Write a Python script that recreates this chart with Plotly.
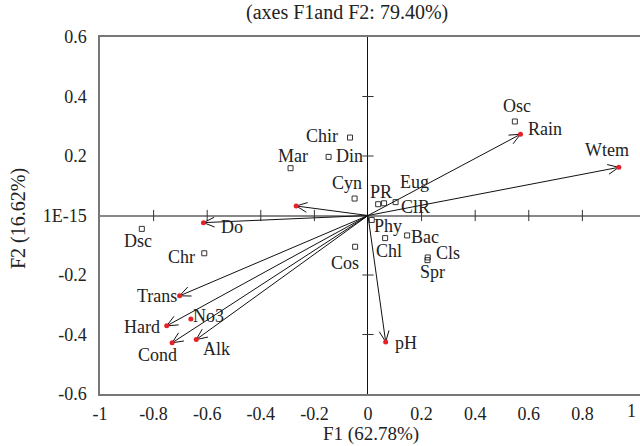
import math
import plotly.graph_objects as go

# ---- data ----
var_names = ["Wtem", "Rain", "pH", "Do", "Trans", "Hard", "Cond", "Alk", ""]
var_x = [0.936, 0.569, 0.066, -0.614, -0.703, -0.751, -0.731, -0.641, -0.268]
var_y = [0.162, 0.273, -0.425, -0.024, -0.270, -0.371, -0.428, -0.417, 0.032]

extra_names = ["No3"]           # variable shown as a point only
extra_x = [-0.661]
extra_y = [-0.348]

sp_names = ["Osc", "Chir", "Din", "Mar", "Cyn", "PR", "Eug", "ClR", "Phy",
            "Chl", "Bac", "Cls", "Spr", "Cos", "Dsc", "Chr"]
sp_x = [0.548, -0.067, -0.147, -0.289, -0.050, 0.038, 0.060, 0.103, 0.014,
        0.064, 0.146, 0.223, 0.222, -0.048, -0.844, -0.611]
sp_y = [0.316, 0.262, 0.197, 0.159, 0.057, 0.038, 0.041, 0.045, -0.015,
        -0.076, -0.067, -0.141, -0.150, -0.105, -0.045, -0.127]

x_ticks = [-1, -0.8, -0.6, -0.4, -0.2, 0, 0.2, 0.4, 0.6, 0.8, 1]
x_ticktext = ["-1", "-0.8", "-0.6", "-0.4", "-0.2", "0", "0.2", "0.4", "0.6", "0.8", "1"]
y_ticks = [-0.6, -0.4, -0.2, 0, 0.2, 0.4, 0.6]
y_ticktext = ["-0.6", "-0.4", "-0.2", "1E-15", "0.2", "0.4", "0.6"]

title_text = "(axes F1and F2: 79.40%)"
x_title = "F1 (62.78%)"
y_title = "F2 (16.62%)"

# ---- style ----
label_offsets = {   # pixels: dx right, dy down
    "Wtem": (-12, -17), "Rain": (25, -5), "Osc": (2, -15), "pH": (20, 1),
    "Do": (29, 4), "Trans": (-23, 0), "Hard": (-25, 1), "No3": (18, -3),
    "Cond": (-15, 12), "Alk": (20, 9), "Dsc": (-4, 12), "Chr": (-23, 4),
    "Chir": (-28, -2), "Din": (21, -1), "Mar": (2, -12), "Cyn": (-8, -16),
    "PR": (3, -12), "Eug": (30, -21), "ClR": (20, 5), "Phy": (16, 6),
    "Chl": (4, 13), "Bac": (18, 2), "Cls": (20, -4), "Spr": (5, 12),
    "Cos": (-10, 16),
}
FONT = "Liberation Serif, Times New Roman, serif"
TXT = "#222222"
W, H = 640, 446
M = dict(l=100, r=0, t=37, b=52)
XR = [-1, 1.015]
YR = [-0.6, 0.6]
HEAD_LEN = 12      # px
HEAD_ANG = 24      # degrees

# pixel scale of the axes, used to shape arrowheads
sx = (W - M["l"] - M["r"]) / (XR[1] - XR[0])
sy = (H - M["t"] - M["b"]) / (YR[1] - YR[0])
ph = H - M["t"] - M["b"]
pw = W - M["l"] - M["r"]

fig = go.Figure()

# tick marks on the zero lines
fig.add_trace(go.Scatter(
    x=[v for v in x_ticks if v not in (0, -1, 1)],
    y=[0] * (len(x_ticks) - 3),
    mode="markers",
    marker=dict(symbol="line-ns", size=8, line=dict(width=1, color="#333")),
    hoverinfo="skip", showlegend=False))
fig.add_trace(go.Scatter(
    x=[0] * (len(y_ticks) - 3),
    y=[v for v in y_ticks if v not in (0, -0.6, 0.6)],
    mode="markers",
    marker=dict(symbol="line-ew", size=8, line=dict(width=1, color="#333")),
    hoverinfo="skip", showlegend=False))

# species squares
fig.add_trace(go.Scatter(
    x=sp_x, y=sp_y, mode="markers",
    marker=dict(symbol="square-open", size=5, color="#333", line=dict(width=1)),
    hoverinfo="skip", showlegend=False))

# variable vectors with open arrowheads
lx, ly = [], []
for vx, vy in zip(var_x, var_y):
    lx += [0, vx, None]
    ly += [0, vy, None]
    px, py = vx * sx, vy * sy
    n = math.hypot(px, py)
    ux, uy = -px / n, -py / n
    for s in (1, -1):
        a = math.radians(HEAD_ANG) * s
        bx = ux * math.cos(a) - uy * math.sin(a)
        by = ux * math.sin(a) + uy * math.cos(a)
        lx += [vx + HEAD_LEN * bx / sx, vx, None]
        ly += [vy + HEAD_LEN * by / sy, vy, None]
fig.add_trace(go.Scatter(
    x=lx, y=ly, mode="lines", line=dict(color="#111", width=1),
    hoverinfo="skip", showlegend=False))

# red dots at arrow tips
fig.add_trace(go.Scatter(
    x=var_x + extra_x, y=var_y + extra_y, mode="markers",
    marker=dict(symbol="circle", size=5, color="#e8202a"),
    hoverinfo="skip", showlegend=False))

# labels
for n, vx, vy in zip(var_names + extra_names + sp_names,
                     var_x + extra_x + sp_x, var_y + extra_y + sp_y):
    if not n:
        continue
    dx, dy = label_offsets.get(n, (0, 0))
    fig.add_annotation(x=vx, y=vy, xref="x", yref="y", text=n,
                       showarrow=False, xshift=dx, yshift=-dy,
                       font=dict(family=FONT, size=18, color=TXT))

# last x tick label, kept inside the picture's right edge
fig.add_annotation(x=(x_ticks[-1] - XR[0]) / (XR[1] - XR[0]), y=0,
                   xref="paper", yref="paper",
                   text=x_ticktext[-1], showarrow=False,
                   xanchor="right", yanchor="middle", xshift=2, yshift=-17,
                   font=dict(family=FONT, size=18, color=TXT))

# titles
fig.add_annotation(text=title_text, xref="paper", yref="paper",
                   x=(347 - M["l"]) / pw, y=1 + (M["t"] - 12) / ph,
                   showarrow=False, xanchor="center", yanchor="middle",
                   font=dict(family=FONT, size=20, color=TXT))
fig.add_annotation(text=x_title, xref="paper", yref="paper",
                   x=(371 - M["l"]) / pw, y=-(434 - (H - M["b"])) / ph,
                   showarrow=False, xanchor="center", yanchor="middle",
                   font=dict(family=FONT, size=19, color=TXT))
fig.add_annotation(text=y_title, xref="paper", yref="paper",
                   x=(18 - M["l"]) / pw, y=((H - M["b"]) - 219) / ph,
                   textangle=-90,
                   showarrow=False, xanchor="center", yanchor="middle",
                   font=dict(family=FONT, size=20, color=TXT))

fig.update_layout(
    width=W, height=H, margin=M,
    paper_bgcolor="white", plot_bgcolor="white",
    font=dict(family=FONT, size=18, color=TXT),
    xaxis=dict(range=XR, tickvals=x_ticks[:-1], ticktext=x_ticktext[:-1],
               showgrid=False, zeroline=True, zerolinecolor="#111",
               zerolinewidth=1, showline=True, linecolor="#777",
               linewidth=1.5, mirror=True, ticks="", ticklabelstandoff=3,
               tickfont=dict(family=FONT, size=18, color=TXT)),
    yaxis=dict(range=YR, tickvals=y_ticks, ticktext=y_ticktext,
               showgrid=False, zeroline=True, zerolinecolor="#888",
               zerolinewidth=2, showline=True, linecolor="#777",
               linewidth=1.5, mirror=False, ticks="", ticklabelstandoff=8,
               tickfont=dict(family=FONT, size=18, color=TXT)),
)

fig.write_html("out.html", config={"displayModeBar": False},
               post_script="document.body.style.margin='0';"
                           "document.body.style.overflow='hidden';")
